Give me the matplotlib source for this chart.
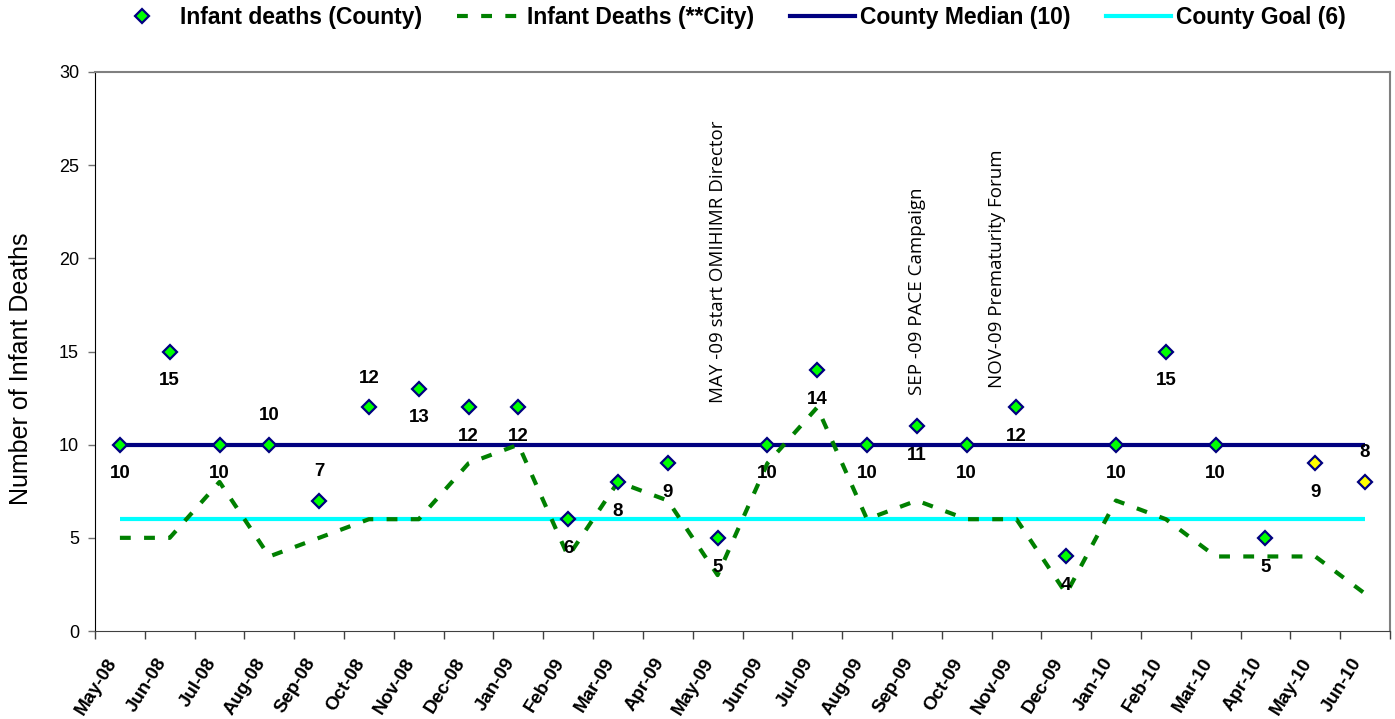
import numpy as np
import matplotlib
matplotlib.use("Agg")
import matplotlib.pyplot as plt
from matplotlib.lines import Line2D

plt.rcParams['font.family'] = ['Liberation Sans', 'DejaVu Sans']

# Monthly infant deaths
months = ['May-08', 'Jun-08', 'Jul-08', 'Aug-08', 'Sep-08', 'Oct-08', 'Nov-08',
          'Dec-08', 'Jan-09', 'Feb-09', 'Mar-09', 'Apr-09', 'May-09', 'Jun-09',
          'Jul-09', 'Aug-09', 'Sep-09', 'Oct-09', 'Nov-09', 'Dec-09', 'Jan-10',
          'Feb-10', 'Mar-10', 'Apr-10', 'May-10', 'Jun-10']
county_deaths = [10, 15, 10, 10, 7, 12, 13, 12, 12, 6, 8, 9, 5, 10, 14, 10, 11, 10,
                 12, 4, 10, 15, 10, 5, 9, 8]
city_deaths = [5, 5, 8, 4, 5, 6, 6, 9, 10, 4, 8, 7, 3, 9, 12, 6, 7, 6, 6, 2, 7, 6,
               4, 4, 4, 2]
county_median = 10
county_goal = 6

# Months whose county counts are still preliminary (yellow markers)
preliminary_months = ['May-10', 'Jun-10']
# Months whose value label sits above the marker
labels_above = ['Aug-08', 'Sep-08', 'Oct-08', 'Jun-10']

# Program milestones: (month, text)
milestones = [
    ('May-09', 'MAY -09 start OMIHIMR Director'),
    ('Sep-09', 'SEP -09 PACE Campaign'),
    ('Nov-09', 'NOV-09 Prematurity Forum'),
]

W, H = 1395, 719
fig = plt.figure(figsize=(W / 100, H / 100), dpi=100)
ax = fig.add_axes([95 / W, 88 / H, 1295 / W, 559 / H])

x = np.arange(len(months))
county = np.array(county_deaths)
prelim = np.array([m in preliminary_months for m in months])

ax.plot(x, np.full(len(x), county_goal), color='#00FFFF', lw=3, zorder=2,
        solid_capstyle='butt')
ax.plot(x, np.full(len(x), county_median), color='#000080', lw=3, zorder=2,
        solid_capstyle='butt')
ax.plot(x, city_deaths, color='#008000', lw=3, ls=(0, (2.6, 3.2)), zorder=3)

mk = dict(ls='none', marker='D', markersize=7.6, markeredgecolor='#000080',
          markeredgewidth=1.6, zorder=5)
ax.plot(x[~prelim], county[~prelim], markerfacecolor='#00FF00', **mk)
ax.plot(x[prelim], county[prelim], markerfacecolor='#FFFF00', **mk)

for i, (m, v) in enumerate(zip(months, county_deaths)):
    dy = 21 if m in labels_above else -21
    ax.annotate(str(v), (i, v), xytext=(0, dy), textcoords='offset points',
                ha='center', va='center', fontsize=13.5, fontweight='bold', zorder=6)

# Milestone notes, written vertically
note_offsets = {'May-09': (0.0, 12.25), 'Sep-09': (0.0, 12.65), 'Nov-09': (-0.4, 13.05)}
for m, txt in milestones:
    dx, yb = note_offsets[m]
    ax.text(months.index(m) + dx, yb, txt, rotation=90, ha='center', va='bottom',
            fontsize=13.5, family=['Open Sans', 'DejaVu Sans'], zorder=6)

ax.set_xlim(-0.5, len(months) - 0.5)
ax.set_ylim(0, 30)

ax.set_xticks(np.arange(-0.5, len(months)), labels=[])
ax.set_xticks(x, labels=months, minor=True)
ax.tick_params(axis='x', which='major', length=6, width=1, color='#404040', direction='out')
ax.tick_params(axis='x', which='minor', length=0, pad=24)
for lab in ax.get_xticklabels(minor=True):
    lab.set_rotation(58)
    lab.set_ha('right')
    lab.set_va('bottom')
    lab.set_rotation_mode('anchor')
    lab.set_fontweight('bold')
    lab.set_fontsize(13.5)

ax.set_yticks(range(0, 31, 5))
ax.tick_params(axis='y', length=5, width=1, color='#707070', pad=6.5, labelsize=13)

ax.set_ylabel('Number of Infant Deaths', fontsize=18)
ax.yaxis.set_label_coords(-0.048, 0.47)

for side in ('top', 'right'):
    ax.spines[side].set_color('#808080')
    ax.spines[side].set_linewidth(1.5)
ax.spines['left'].set_color('black')
ax.spines['bottom'].set_color('#404040')

handles = [
    Line2D([], [], markerfacecolor='#00FF00', **mk),
    Line2D([], [], color='#008000', lw=3, ls=(0, (2.6, 3.2))),
    Line2D([], [], color='#000080', lw=3),
    Line2D([], [], color='#00FFFF', lw=3),
]
names = ['Infant deaths (County)', 'Infant Deaths (**City)',
         'County Median (10)', 'County Goal (6)']
fig.legend(handles, names, loc='center', bbox_to_anchor=(0.5215, 0.975), ncol=4,
           frameon=False, prop=dict(weight='bold', size=16.5), handlelength=2.83,
           handletextpad=0.22, columnspacing=1.55, borderaxespad=0)

fig.savefig('out.png', dpi=100)
